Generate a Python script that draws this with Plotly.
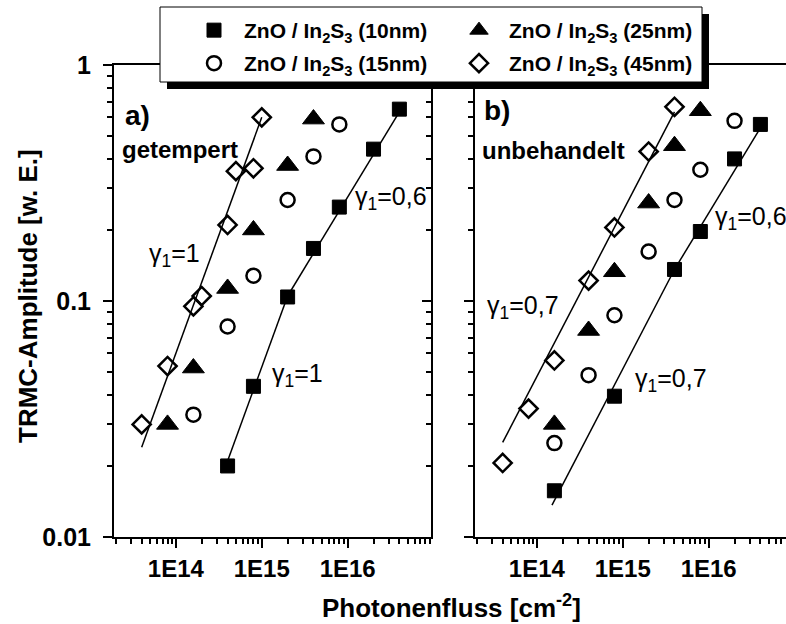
import plotly.graph_objects as go

FONT = "Liberation Sans, Arial, sans-serif"

# Photon flux [cm^-2] and TRMC amplitude [a.u.] per In2S3 layer thickness
# a) annealed ("getempert")
a_10nm_flux = [4e14, 8e14, 2e15, 4e15, 8e15, 2e16, 4e16]
a_10nm_amp = [0.020, 0.0435, 0.104, 0.167, 0.25, 0.44, 0.65]
a_15nm_flux = [1.6e14, 4e14, 8e14, 2e15, 4e15, 8e15]
a_15nm_amp = [0.033, 0.078, 0.128, 0.268, 0.41, 0.56]
a_25nm_flux = [8e13, 1.6e14, 4e14, 8e14, 2e15, 4e15]
a_25nm_amp = [0.030, 0.052, 0.113, 0.20, 0.375, 0.59]
a_45nm_flux = [4e13, 8e13, 1.6e14, 2e14, 4e14, 5e14, 8e14, 1e15]
a_45nm_amp = [0.030, 0.053, 0.095, 0.105, 0.21, 0.355, 0.365, 0.60]

# b) untreated ("unbehandelt")
b_10nm_flux = [1.6e14, 8e14, 4e15, 8e15, 2e16, 4e16]
b_10nm_amp = [0.0157, 0.0395, 0.136, 0.197, 0.40, 0.56]
b_15nm_flux = [1.6e14, 4e14, 8e14, 2e15, 4e15, 8e15, 2e16]
b_15nm_amp = [0.025, 0.0485, 0.087, 0.162, 0.268, 0.36, 0.58]
b_25nm_flux = [1.6e14, 4e14, 8e14, 2e15, 4e15, 8e15]
b_25nm_amp = [0.030, 0.075, 0.133, 0.26, 0.455, 0.64]
b_45nm_flux = [4e13, 8e13, 1.6e14, 4e14, 8e14, 2e15, 4e15]
b_45nm_amp = [0.0206, 0.035, 0.056, 0.122, 0.205, 0.43, 0.665]

series_names = ["ZnO / In<sub>2</sub>S<sub>3</sub> (10nm)",
                "ZnO / In<sub>2</sub>S<sub>3</sub> (25nm)",
                "ZnO / In<sub>2</sub>S<sub>3</sub> (15nm)",
                "ZnO / In<sub>2</sub>S<sub>3</sub> (45nm)"]
# legend row of each series (two entries per row)
series_legend = ["legend", "legend", "legend2", "legend2"]

# Power-law fits  A = A0 * (F / F0)^gamma, one straight segment each
fit_panel = ["a", "a", "a", "b", "b", "b"]
fit_flux_start = [4e13, 4e14, 2e15, 4e13, 1.5e14, 4e15]
fit_flux_end = [1e15, 2e15, 4e16, 4e15, 4e15, 4e16]
fit_flux_ref = [1e15, 2e15, 2e15, 8e14, 4e15, 4e15]
fit_amp_ref = [0.60, 0.105, 0.105, 0.205, 0.136, 0.136]
fit_gamma = [1.0, 1.0, 0.6, 0.7, 0.7, 0.6]

x_ticks = [1e14, 1e15, 1e16]
x_ticktext = ["1E14", "1E15", "1E16"]
y_ticks = [0.01, 0.1, 1]
y_ticktext = ["0.01", "0.1", "1"]

# plot area geometry (pixels)
W, H = 786, 624
ML, MR, MT, MB = 114, 0, 65, 87
PW, PH = W - ML - MR, H - MT - MB


def px_x(p):
    return (p - ML) / PW


def px_y(p):
    return (H - MB - p) / PH


fig = go.Figure()

# fit lines (drawn first, under the markers)
for panel, f0, f1, fr, ar, g in zip(fit_panel, fit_flux_start, fit_flux_end,
                                   fit_flux_ref, fit_amp_ref, fit_gamma):
    xs = [f0, f1]
    ys = [ar * (f / fr) ** g for f in xs]
    fig.add_trace(go.Scatter(
        x=xs, y=ys, mode="lines", line=dict(color="black", width=1.5),
        xaxis="x" if panel == "a" else "x2",
        yaxis="y" if panel == "a" else "y2",
        showlegend=False, hoverinfo="skip"))

marker_styles = [
    dict(symbol="square", size=14, color="black", line=dict(color="black", width=1)),
    dict(symbol="triangle-up", size=19, color="black", line=dict(color="black", width=1)),
    dict(symbol="circle-open", size=14, color="black", line=dict(color="black", width=2.5)),
    dict(symbol="diamond-open", size=14, color="black", line=dict(color="black", width=2.5)),
]

panel_a = [(a_10nm_flux, a_10nm_amp), (a_25nm_flux, a_25nm_amp),
           (a_15nm_flux, a_15nm_amp), (a_45nm_flux, a_45nm_amp)]
panel_b = [(b_10nm_flux, b_10nm_amp), (b_25nm_flux, b_25nm_amp),
           (b_15nm_flux, b_15nm_amp), (b_45nm_flux, b_45nm_amp)]

for i, name in enumerate(series_names):
    fx, fy = panel_a[i]
    fig.add_trace(go.Scatter(x=fx, y=fy, mode="markers", name=name,
                             legendgroup=name, legend=series_legend[i],
                             marker=marker_styles[i], xaxis="x", yaxis="y"))
    gx, gy = panel_b[i]
    fig.add_trace(go.Scatter(x=gx, y=gy, mode="markers", name=name,
                             legendgroup=name, legend=series_legend[i],
                             marker=marker_styles[i], xaxis="x2", yaxis="y2",
                             showlegend=False))

minor_x = [k * 10.0 ** n for n in range(13, 17) for k in range(2, 10)]
minor_y = [k * 10.0 ** n for n in range(-2, 0) for k in range(2, 10)]

x_common = dict(
    type="log", showline=True, linecolor="black", linewidth=2, mirror=True,
    ticks="outside", ticklen=9, tickwidth=2, tickcolor="black",
    tickmode="array", tickvals=x_ticks, ticktext=x_ticktext,
    tickfont=dict(family=FONT, size=24, color="black", weight="bold"),
    minor=dict(ticks="outside", ticklen=5, tickwidth=1.5, tickcolor="black",
               tickmode="array", tickvals=minor_x, showgrid=False),
    showgrid=False, zeroline=False)

y_common = dict(
    type="log", range=[-2, 0], showline=True, linecolor="black", linewidth=2,
    ticks="outside", ticklen=9, tickwidth=2, tickcolor="black",
    tickmode="array", tickvals=y_ticks, ticktext=y_ticktext,
    tickfont=dict(family=FONT, size=25, color="black", weight="bold"),
    ticklabelstandoff=7,
    minor=dict(ticks="outside", ticklen=5, tickwidth=1.5, tickcolor="black",
               tickmode="array", tickvals=minor_y, showgrid=False),
    showgrid=False, zeroline=False)

dom_a = [0, px_x(431)]
dom_b = [px_x(475), 1]

legend_common = dict(
    orientation="h", xanchor="left", yanchor="top",
    bgcolor="rgba(0,0,0,0)", borderwidth=0,
    font=dict(family=FONT, size=21, color="black", weight="bold"),
    itemwidth=50, entrywidth=182, indentation=18, traceorder="normal",
    itemsizing="trace")

fig.update_layout(
    width=W, height=H,
    margin=dict(l=ML, r=MR, t=MT, b=MB, pad=0),
    paper_bgcolor="white", plot_bgcolor="white",
    font=dict(family=FONT, color="black"),
    xaxis=dict(x_common, domain=dom_a, range=[13.28, 16.97], anchor="y"),
    xaxis2=dict(x_common, domain=dom_b, range=[13.28, 16.90], anchor="y2"),
    yaxis=dict(y_common, domain=[0, 1], anchor="x", mirror=True),
    yaxis2=dict(y_common, domain=[0, 1], anchor="x2", showticklabels=False),
    # inward ticks along the right edge of panel a
    yaxis3=dict(type="log", range=[-2, 0], overlaying="y", anchor="x", side="right",
                showline=False, showgrid=False, zeroline=False,
                ticks="inside", ticklen=9, tickwidth=2, tickcolor="black",
                tickmode="array", tickvals=y_ticks, showticklabels=False,
                minor=dict(ticks="inside", ticklen=5, tickwidth=1.5, tickcolor="black",
                           tickmode="array", tickvals=minor_y, showgrid=False)),
    showlegend=True,
    legend=dict(legend_common, x=px_x(166), y=px_y(10)),
    legend2=dict(legend_common, x=px_x(166), y=px_y(43)),
)

# a hidden trace keeps yaxis3 drawn
fig.add_trace(go.Scatter(x=[1e14], y=[0.1], xaxis="x", yaxis="y3", mode="markers",
                         marker=dict(opacity=0), showlegend=False, hoverinfo="skip"))

# legend frame with drop shadow (bottom and right strips)
fig.add_shape(type="rect", xref="paper", yref="paper",
              x0=px_x(160), x1=px_x(702), y0=px_y(82), y1=px_y(7),
              fillcolor="white", line=dict(color="black", width=1), layer="above")
fig.add_shape(type="rect", xref="paper", yref="paper",
              x0=px_x(167), x1=px_x(709), y0=px_y(89), y1=px_y(82),
              fillcolor="black", line=dict(width=0), layer="above")
fig.add_shape(type="rect", xref="paper", yref="paper",
              x0=px_x(702), x1=px_x(709), y0=px_y(89), y1=px_y(14),
              fillcolor="black", line=dict(width=0), layer="above")

annotations = []


def label(text, x, y, xref, yref, size=25, bold=False, **kw):
    t = f"<b>{text}</b>" if bold else text
    annotations.append(dict(text=t, x=x, y=y, xref=xref, yref=yref, showarrow=False,
                            xanchor=kw.pop("xanchor", "left"), yanchor="middle",
                            font=dict(family=FONT, size=size, color="black"), **kw))


# panel a
label("a)", 13.385, -0.212, "x", "y", size=28, bold=True)
label("getempert", 13.35, -0.36, "x", "y", size=24, bold=True)
label("γ<sub>1</sub>=1", 13.664, -0.805, "x", "y")
label("γ<sub>1</sub>=0,6", 16.062, -0.564, "x", "y")
label("γ<sub>1</sub>=1", 15.096, -1.314, "x", "y")
# panel b
label("b)", 13.361, -0.191, "x2", "y2", size=28, bold=True)
label("unbehandelt", 13.338, -0.364, "x2", "y2", size=24, bold=True)
label("γ<sub>1</sub>=0,7", 13.396, -1.025, "x2", "y2")
label("γ<sub>1</sub>=0,6", 16.051, -0.648, "x2", "y2")
label("γ<sub>1</sub>=0,7", 15.119, -1.335, "x2", "y2")

# axis titles
label("Photonenfluss [cm<sup>-2</sup>]", px_x(451), px_y(606), "paper", "paper",
      size=26, bold=True, xanchor="center")
label("TRMC-Amplitude [w. E.]", px_x(28), px_y(296), "paper", "paper",
      size=26, bold=True, xanchor="center", textangle=-90)

fig.update_layout(annotations=annotations)

fig.write_html("out.html")
